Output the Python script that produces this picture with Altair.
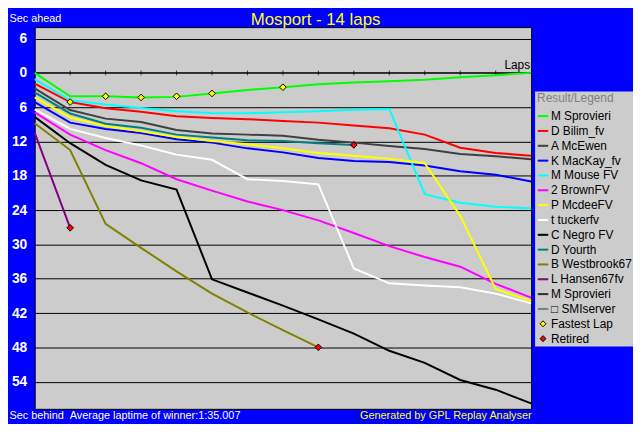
import altair as alt
import pandas as pd

# gap of every car to the winner's average lap pace, in seconds (positive = behind)
laps = list(range(15))

sprovieri = [0.0, 4.1, 4.1, 4.3, 4.2, 3.6, 3.0, 2.5, 2.0, 1.7, 1.45, 1.2, 0.75, 0.4, 0.0]
bilim = [1.9, 5.1, 6.2, 6.8, 7.6, 7.9, 8.1, 8.4, 8.7, 9.2, 9.7, 10.8, 13.1, 14.0, 14.5]
mcewen = [2.7, 6.5, 8.0, 8.6, 10.0, 10.6, 10.8, 11.0, 11.7, 12.2, 12.8, 13.3, 14.2, 14.6, 15.1]
mackay = [5.1, 8.7, 9.8, 10.5, 11.6, 12.2, 13.2, 13.9, 14.9, 15.4, 15.6, 16.2, 17.2, 17.8, 19.0]
mouse = [1.1, 4.8, 5.55, 6.15, 6.7, 7.0, 7.05, 6.9, 6.7, 6.45, 6.3, 21.2, 22.7, 23.4, 23.7]
brown = [6.9, 10.8, 13.5, 15.8, 18.6, 20.6, 22.5, 24.0, 25.8, 28.0, 30.3, 32.2, 33.9, 36.9, 39.3]
mcdee = [4.3, 7.8, 9.3, 10.2, 11.2, 11.9, 12.5, 13.2, 14.0, 14.5, 15.0, 15.8, 25.0, 37.8, 39.9]
tucker = [6.4, 9.8, 11.4, 12.7, 14.3, 15.2, 18.6, 18.9, 19.5, 34.2, 36.8, 37.2, 37.5, 38.6, 40.3]
negro = [7.7, 12.3, 16.1, 18.8, 20.4, 36.1, 38.4, 40.7, 43.1, 45.6, 48.6, 50.7, 53.7, 55.4, 57.8]
yourth = [3.4, 7.1, 8.9, 9.6, 10.8, 11.3, 11.8, 11.9, 12.3, 12.6]
westbrook = [8.8, 13.5, 26.4, 30.6, 34.7, 38.6, 41.9, 45.0, 48.0]
hansen = [10.5, 27.1]

drivers = ["M Sprovieri", "D Bilim_fv", "A McEwen", "K MacKay_fv", "M Mouse FV",
           "2 BrownFV", "P McdeeFV", "t tuckerfv", "C Negro FV", "D Yourth",
           "B Westbrook67", "L Hansen67fv"]
gaps = [sprovieri, bilim, mcewen, mackay, mouse, brown, mcdee, tucker, negro,
        yourth, westbrook, hansen]
colors = ["#00FF00", "#FF0000", "#404040", "#0000FF", "#00FFFF", "#FF00FF",
          "#FFFF00", "#FFFFFF", "#000000", "#008080", "#808000", "#800080"]

# entries with no line (zero-width space keeps the repeated name unique)
others = ["M Sprovieri\u200b", "\u25a1 SMIserver"]
other_colors = ["#303030", "#808080"]

fastest_laps = [1, 2, 3, 4, 5, 7]
fastest_gaps = [5.1, 4.1, 4.3, 4.1, 3.6, 2.5]
retired_laps = [1, 8, 9]
retired_gaps = [27.1, 48.0, 12.6]

y_ticks = [-6, 0, 6, 12, 18, 24, 30, 36, 42, 48, 54]
lap_ticks = laps[1:-1]

FONT = "Liberation Sans"
GREY = "#CCCCCC"

# legend glyphs: a short thick dash for cars, a small diamond for the markers
DASH = "M-1,-0.1H1V0.1H-1Z"
DIAMOND = "M-0.6,0L0,-0.6L0.6,0L0,0.6Z"

rows = []
for name, series in zip(drivers, gaps):
    for lap, gap in zip(laps, series):
        rows.append({"driver": name, "lap": lap, "gap": gap})
lines_df = pd.DataFrame(rows)

keys = drivers + others + ["Fastest Lap", "Retired"]
stroke_range = colors + other_colors + ["#000000", "#000000"]
fill_range = colors + other_colors + ["#FFFF00", "#FF0000"]
shape_range = [DASH] * 14 + [DIAMOND, DIAMOND]

xscale = alt.Scale(domain=[0, 14], nice=False, zero=False)
yscale = alt.Scale(domain=[-8, 58.75], reverse=True, nice=False, zero=False)

legend = alt.Legend(
    title="Result/Legend", orient="none", legendX=506, legendY=65,
    fillColor=GREY, padding=2, rowPadding=3, titlePadding=5,
    titleColor="#808080", titleFont=FONT, titleFontSize=12, titleFontWeight="normal",
    labelFont=FONT, labelFontSize=12, labelColor="black", labelOffset=2,
    symbolSize=100, symbolStrokeWidth=1, symbolOpacity=1,
)

lines = alt.Chart(lines_df).mark_line(strokeWidth=2).encode(
    x=alt.X("lap:Q", scale=xscale, axis=alt.Axis(
        orient="bottom", labels=False, ticks=False, domain=False, grid=False,
        title="Average laptime of winner:1:35.007", titleX=35, titleY=7,
        titleAlign="left", titleBaseline="middle", titleColor="white",
        titleFont=FONT, titleFontSize=11, titleFontWeight="normal")),
    y=alt.Y("gap:Q", scale=yscale, axis=alt.Axis(
        orient="left", values=y_ticks, labelExpr="abs(datum.value)",
        grid=True, gridColor="black", gridOpacity=1, gridWidth=1,
        domain=False, ticks=False, labelColor="white", labelFont=FONT,
        labelFontSize=14, labelFontWeight="bold", labelPadding=8,
        title="Sec ahead", titleAngle=0, titleX=-26, titleY=-9,
        titleAlign="left", titleBaseline="middle", titleColor="white",
        titleFont=FONT, titleFontSize=11, titleFontWeight="normal")),
    color=alt.Color("driver:N", scale=alt.Scale(domain=drivers, range=colors),
                    legend=None),
)

zero_line = alt.Chart(pd.DataFrame({"gap": [0]})).mark_rule(color="black").encode(
    y=alt.Y("gap:Q", scale=yscale, axis=alt.Axis(
        orient="right", labels=False, ticks=False, domain=False, grid=False,
        title="Sec behind", titleAngle=0, titleX=-528, titleY=393,
        titleAlign="left", titleBaseline="middle", titleColor="white",
        titleFont=FONT, titleFontSize=11, titleFontWeight="normal")),
)

lap_marks = alt.Chart(pd.DataFrame({"lap": lap_ticks, "gap": 0})).mark_tick(
    orient="vertical", size=5, thickness=1, color="black"
).encode(
    x=alt.X("lap:Q", scale=xscale, axis=alt.Axis(
        orient="top", labels=False, ticks=False, domain=False, grid=False,
        title="Generated by GPL Replay Analyser", titleX=502, titleY=393,
        titleAlign="right", titleBaseline="middle", titleColor="#FFFF00",
        titleFont=FONT, titleFontSize=11, titleFontWeight="normal")),
    y=alt.Y("gap:Q", scale=yscale, axis=None),
)

laps_label = alt.Chart(pd.DataFrame({"lap": [laps[-1]], "gap": [0], "t": ["Laps"]})).mark_text(
    align="right", baseline="bottom", dx=-1, dy=-1, font=FONT, fontSize=12, color="black"
).encode(
    x=alt.X("lap:Q", scale=xscale, axis=None),
    y=alt.Y("gap:Q", scale=yscale, axis=None),
    text="t:N",
)

fastest = alt.Chart(pd.DataFrame({"lap": fastest_laps, "gap": fastest_gaps})).mark_point(
    shape="diamond", filled=True, fill="#FFFF00", stroke="black", strokeWidth=1,
    size=45, opacity=1
).encode(
    x=alt.X("lap:Q", scale=xscale, axis=None),
    y=alt.Y("gap:Q", scale=yscale, axis=None),
)

retired = alt.Chart(pd.DataFrame({"lap": retired_laps, "gap": retired_gaps})).mark_point(
    shape="diamond", filled=True, fill="#FF0000", stroke="black", strokeWidth=1,
    size=45, opacity=1
).encode(
    x=alt.X("lap:Q", scale=xscale, axis=None),
    y=alt.Y("gap:Q", scale=yscale, axis=None),
)

# legend source: one invisible point per entry
legend_src = alt.Chart(pd.DataFrame({"entry": keys})).mark_point().encode(
    x=alt.value(0),
    y=alt.value(0),
    opacity=alt.value(0),
    fill=alt.Fill("entry:N", scale=alt.Scale(domain=keys, range=fill_range), legend=legend),
    stroke=alt.Stroke("entry:N", scale=alt.Scale(domain=keys, range=stroke_range), legend=legend),
    shape=alt.Shape("entry:N", scale=alt.Scale(domain=keys, range=shape_range), legend=legend),
)

chart = alt.layer(
    zero_line, lap_marks, lines, fastest, retired, laps_label, legend_src
).resolve_axis(
    x="independent", y="independent"
).properties(
    width=502,
    height=386,
    padding={"left": 27, "top": 17, "right": 103, "bottom": 13},
    autosize=alt.AutoSizeParams(type="none"),
    background="#0000FF",
    title=alt.TitleParams(
        "Mosport - 14 laps", color="#FFFF00", font=FONT, fontSize=17,
        fontWeight="normal", anchor="middle", frame="group", dx=33, dy=19, offset=2),
).configure(
    font=FONT,
    view=alt.ViewConfig(fill=GREY, stroke="black", strokeWidth=1),
)

chart.save("out.html", embed_options={"renderer": "svg", "actions": False})
